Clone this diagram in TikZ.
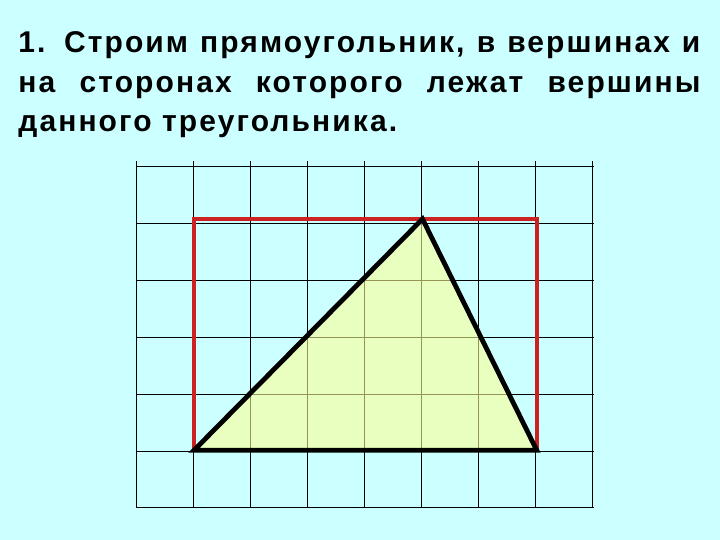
\documentclass[tikz,border=0pt]{standalone}
\usepackage{fontspec}
\setmainfont{Liberation Sans}[LetterSpace=7]

\definecolor{slidebg}{RGB}{204,255,255}
\definecolor{rectred}{RGB}{204,34,34}
\definecolor{trifill}{RGB}{255,255,147}

\tikzset{
    taskline/.style={anchor=base west, inner sep=0pt,
        font=\bfseries\fontsize{15}{19.75}\selectfont}
}

\begin{document}
\begin{tikzpicture}[x=0.5pt,y=0.5pt]
    % Slide
    \fill[slidebg] (0,0) rectangle (720,540);
    \useasboundingbox (0,0) rectangle (720,540);

    % Task text
    \node[taskline] (line1) at (18,487) {\makebox[341pt][s]{1. Строим прямоугольник, в вершинах и}};
    \node[taskline] (line2) at (18,447) {\makebox[341pt][s]{на сторонах которого лежат вершины}};
    \node[taskline] (line3) at (18,408) {данного треугольника.};

    % Squared paper
    \begin{scope}[shift={(137,32)}, x=28.55pt, y=28.9pt]
        \draw[line width=0.5pt] (0,0) grid (8,6);

        % Triangle vertices
        \coordinate (A) at (1,1);
        \coordinate (B) at (7,1);
        \coordinate (C) at (5,5);

        % Triangle fill
        \fill[trifill, fill opacity=0.58] (A) -- (B) -- (C) -- cycle;

        % Rectangle round the triangle
        \draw[rectred, line width=2pt] (1,1) rectangle (7,5);

        % Triangle sides
        \draw[line width=2.4pt, line join=miter] (A) -- (B) -- (C) -- cycle;
    \end{scope}
\end{tikzpicture}
\end{document}
